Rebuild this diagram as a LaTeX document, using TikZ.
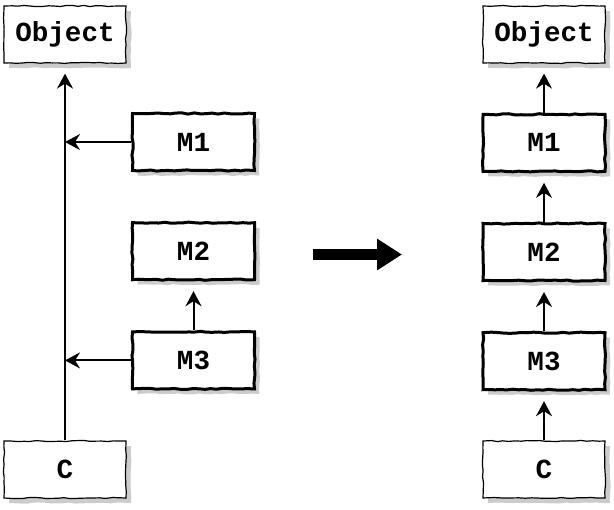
\documentclass[tikz,border=0pt]{standalone}
\usepackage{fontspec}
\setmonofont{Liberation Mono}
\usetikzlibrary{positioning}
\usetikzlibrary{shadows}
\usetikzlibrary{arrows.meta}
\usetikzlibrary{decorations.pathmorphing}
\definecolor{SHADOW-GRAY}{rgb}{0.8,0.8,0.8}

\begin{document}
\begin{tikzpicture}[x=0.5pt,y=-0.5pt,every path/.style={>={Stealth[length=7.5pt,width=8pt,inset=2.5pt]}},
	box/.style={draw,rectangle,fill=white,minimum width=61pt,minimum height=28.5pt,
		font=\ttfamily\bfseries\fontsize{13.8}{16}\selectfont,
		decorate,decoration={random steps,segment length=3pt,amplitude=0.3pt},
		drop shadow={shadow xshift=2.5pt,shadow yshift=-2.5pt,fill=SHADOW-GRAY,opacity=1}},
	thin box/.style={box,line width=0.6pt},
	thick box/.style={box,line width=1.5pt},
	link/.style={->,line width=1pt,shorten >=5pt}]
			\pgfmathsetseed{7}
			\useasboundingbox (0,0) rectangle (614,509);

			% left: chain of mixins
			\node (Obj_left) at (65,34.5) [thin box] {Object};
			\node (C_left) at (65,469.5) [thin box] {C};
			\node (M1_left) at (193.5,142) [thick box] {M1};
			\node (M2_left) [thick box,below=24.6pt of M1_left] {M2};
			\node (M3_left) [thick box,below=24.6pt of M2_left] {M3};

			% right: linearized chain
			\node (Obj_right) at (544,34.5) [thin box] {Object};
			\node (M1_right) [thick box,below=24.6pt of Obj_right] {M1};
			\node (M2_right) [thick box,below=24.6pt of M1_right] {M2};
			\node (M3_right) [thick box,below=24.6pt of M2_right] {M3};
			\node (C_right) [thin box,below=24.6pt of M3_right] {C};

			% draw arrows
			\draw[link] (C_left.north) to (Obj_left.south);
			\draw[link,shorten >=0pt] (M1_left.west) to (M1_left.west -| Obj_left.south);
			\draw[link,shorten >=0pt] (M3_left.west) to (M3_left.west -| Obj_left.south);
			\draw[link] (M3_left.north) to (M2_left.south);
			\draw[link] (M1_right.north) to (Obj_right.south);
			\draw[link] (M2_right.north) to (M1_right.south);
			\draw[link] (M3_right.north) to (M2_right.south);
			\draw[link] (C_right.north) to (M3_right.south);

			% big arrow
			\coordinate (big_start) at (313,254.5);
			\coordinate (big_end) at (402,254.5);
			\draw[line width=5.5pt,-{Triangle[length=12.5pt,width=15pt]}] (big_start) to (big_end);
		\end{tikzpicture}
\end{document}
